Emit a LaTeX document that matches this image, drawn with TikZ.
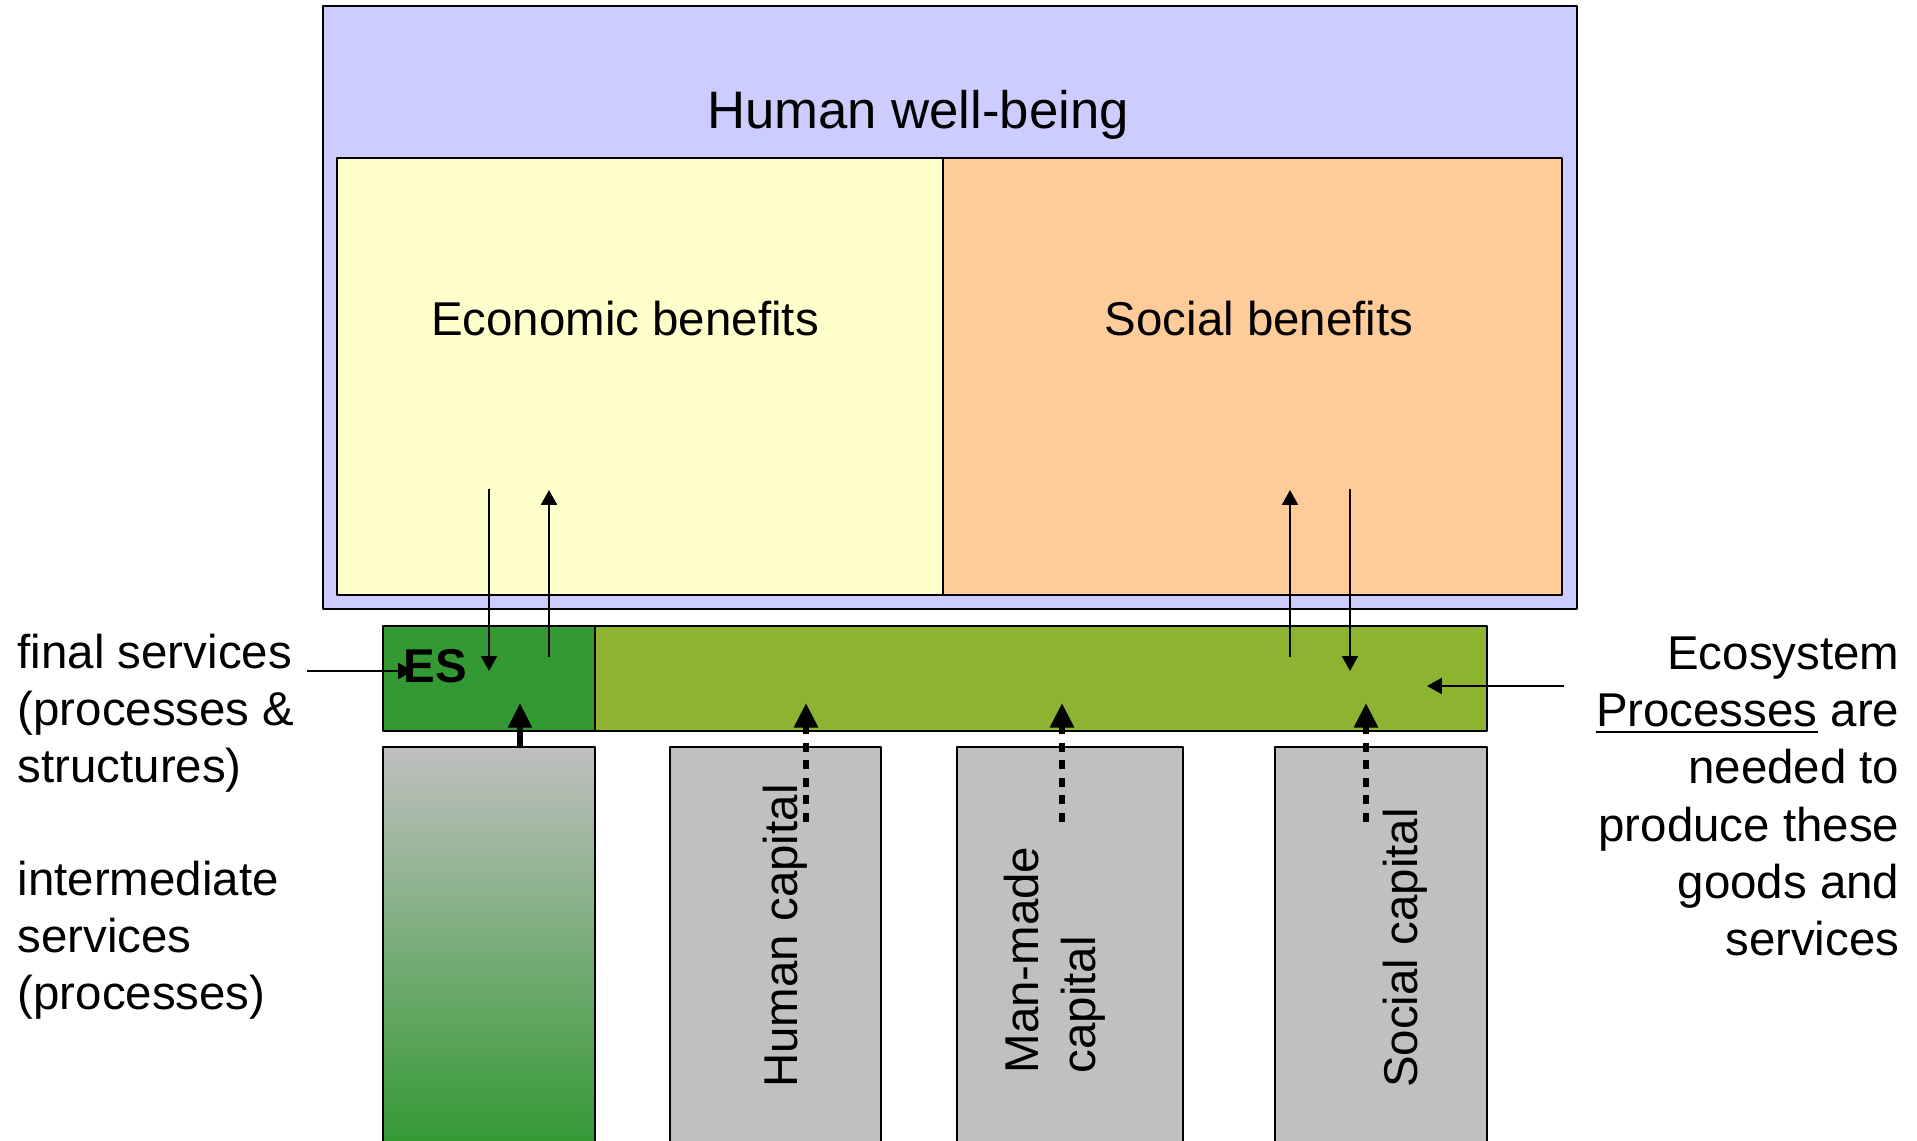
\documentclass[tikz,border=0pt]{standalone}
\usepackage{fontspec}
\setmainfont{Liberation Sans}
\usetikzlibrary{arrows.meta,positioning}
\definecolor{wellblue}{HTML}{CCCCFF}
\definecolor{ecoyellow}{HTML}{FFFFCC}
\definecolor{socorange}{HTML}{FFCC99}
\definecolor{esgreen}{HTML}{339933}
\definecolor{procgreen}{HTML}{8DB331}
\definecolor{capgray}{HTML}{C0C0C0}
\tikzset{
	box/.style={draw,line width=0.6pt,inner sep=0,outer sep=0,anchor=south west},
	txt/.style={font=\fontsize{13.5}{16.3}\selectfont,inner sep=0},
	flow/.style={-{Triangle[length=4.2pt,width=4.5pt]},line width=0.6pt},
	feed/.style={-{Triangle[length=7pt,width=6.5pt]},line width=1.5pt},
	dotfeed/.style={-{Triangle[length=7pt,width=6.5pt]},line width=1.8pt,dash pattern=on 2.6pt off 2.4pt}
}
\begin{document}
\begin{tikzpicture}[line join=round]
	\useasboundingbox (0,0) rectangle (19.17,11.40);
	\path (3.23,5.31) node[box,fill=wellblue,minimum width=12.54cm,minimum height=6.03cm](wb){}
	(3.37,5.45) node[box,fill=ecoyellow,minimum width=6.06cm,minimum height=4.37cm](eco){}
	(9.43,5.45) node[box,fill=socorange,minimum width=6.19cm,minimum height=4.37cm](soc){};
	\path (9.18,10.25) node[txt,font=\fontsize{15}{18}\selectfont](wbt){Human well-being}
	(6.25,8.21) node[txt](ecot){Economic benefits}
	(12.59,8.21) node[txt](soct){Social benefits};
	\path (3.83,4.09) node[box,fill=esgreen,minimum width=2.12cm,minimum height=1.05cm](es){}
	(5.95,4.09) node[box,fill=procgreen,minimum width=8.92cm,minimum height=1.05cm](proc){};
	\path (4.03,4.74) node[txt,anchor=west,font=\fontsize{13.5}{16.3}\selectfont\bfseries](est){ES};
	\path (3.83,-0.05) node[box,top color=capgray,middle color=capgray!73!esgreen,bottom color=esgreen,minimum width=2.12cm,minimum height=3.98cm](nat){}
	(6.70,-0.05) node[box,fill=capgray,minimum width=2.11cm,minimum height=3.98cm](hum){}
	(9.57,-0.05) node[box,fill=capgray,minimum width=2.26cm,minimum height=3.98cm](man){}
	(12.75,-0.05) node[box,fill=capgray,minimum width=2.12cm,minimum height=3.98cm](soccap){};
	\path (7.85,2.04) node[txt,rotate=90](humt){Human capital}
	(10.55,1.80) node[txt,rotate=90,align=left](mant){Man-made\\capital}
	(14.05,1.92) node[txt,rotate=90](soccapt){Social capital};
	\path (0.17,5.07) node[txt,anchor=north west,align=left](fin){final services\\(processes \&\\structures)}
	(0.17,2.80) node[txt,anchor=north west,align=left](inter){intermediate\\services\\(processes)}
	(19.00,5.04) node[txt,anchor=north east,align=right](eproc){Ecosystem\\\underline{Processes} are\\needed to\\produce these\\goods and\\services};
	\coordinate (ecodown) at (4.89,6.51);
	\coordinate (esin) at (4.89,4.69);
	\coordinate (esout) at (5.49,4.83);
	\coordinate (ecoup) at (5.49,6.50);
	\coordinate (procout) at (12.90,4.83);
	\coordinate (socup) at (12.90,6.50);
	\coordinate (socdown) at (13.50,6.51);
	\coordinate (procin) at (13.50,4.69);
	\coordinate (finend) at (3.07,4.69);
	\coordinate (esfin) at (4.13,4.69);
	\coordinate (eprocend) at (15.64,4.54);
	\coordinate (procep) at (14.27,4.54);
	\coordinate (natup) at (5.20,4.37);
	\coordinate (humfrom) at (8.06,3.18);
	\coordinate (humup) at (8.06,4.37);
	\coordinate (manfrom) at (10.62,3.18);
	\coordinate (manup) at (10.62,4.37);
	\coordinate (socfrom) at (13.66,3.18);
	\coordinate (socin) at (13.66,4.37);
	\draw[flow](ecodown)--(esin);
	\draw[flow](esout)--(ecoup);
	\draw[flow](procout)--(socup);
	\draw[flow](socdown)--(procin);
	\draw[flow](finend)--(esfin);
	\draw[flow](eprocend)--(procep);
	\draw[feed](nat.north -| natup)--(natup);
	\draw[dotfeed](humfrom)--(humup);
	\draw[dotfeed](manfrom)--(manup);
	\draw[dotfeed](socfrom)--(socin);
\end{tikzpicture}
\end{document}
